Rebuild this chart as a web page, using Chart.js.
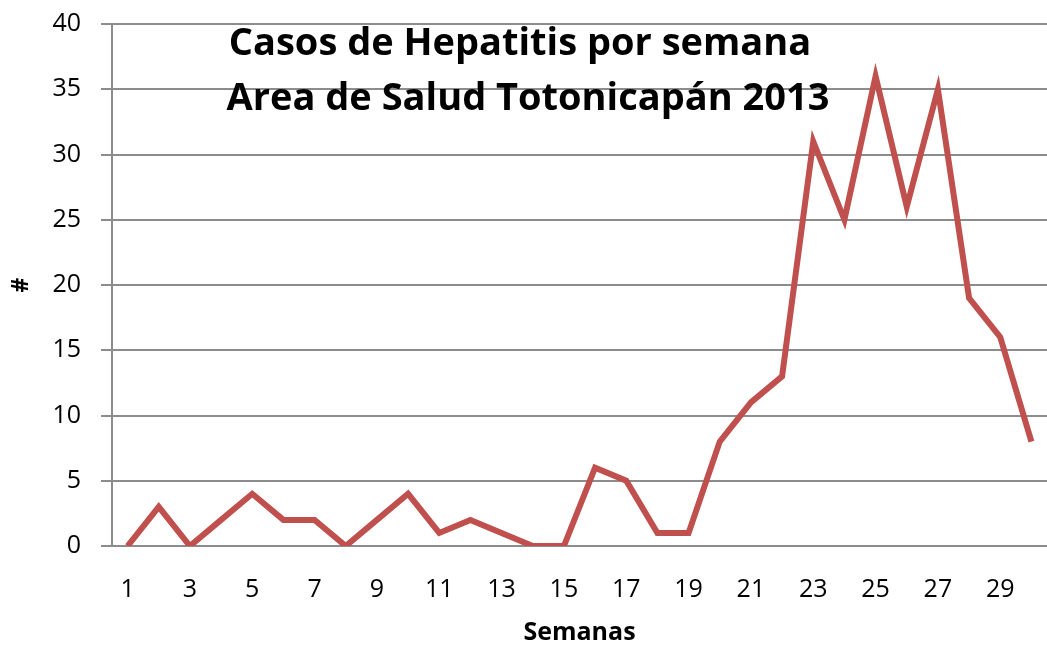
<!DOCTYPE html>
<html>
<head>
<meta charset="utf-8">
<script src="https://cdn.jsdelivr.net/npm/chart.js@4.4.1/dist/chart.umd.min.js"></script>
<style>
  html, body { margin: 0; padding: 0; background: #fff; }
  #wrap { width: 1047px; height: 652px; }
</style>
</head>
<body>
<div id="wrap"><canvas id="hepChart"></canvas></div>
<script>
// Semanas epidemiológicas 1..30
const weeks = Array.from({ length: 30 }, (_, i) => String(i + 1));
const cases = [0, 3, 0, 2, 4, 2, 2, 0, 2, 4, 1, 2, 1, 0, 0, 6, 5, 1, 1, 8, 11, 13, 31, 25, 36, 26, 35, 19, 16, 8];
const titleLines = ['Casos de Hepatitis por semana', 'Area de Salud Totonicapán 2013'];
const yTicks = [0, 5, 10, 15, 20, 25, 30, 35, 40];

const fontFamily = "'Open Sans', 'DejaVu Sans', sans-serif";

// Title drawn inside the plot area, like the original
const innerTitle = {
    id: 'innerTitle',
    afterDraw(chart) {
        const { ctx } = chart;
        const centers = [520, 528];
        const mids = [44, 99];
        ctx.save();
        ctx.fillStyle = '#000';
        ctx.font = 'bold 38px ' + fontFamily;
        ctx.textAlign = 'center';
        ctx.textBaseline = 'middle';
        titleLines.forEach((line, i) => {
            ctx.fillText(line, centers[i], mids[i]);
        });
        ctx.restore();
    }
};

const ctx = document.getElementById('hepChart');
new Chart(ctx, {
    type: 'line',
    data: {
        labels: weeks,
        datasets: [{
            label: 'Casos',
            data: cases,
            borderColor: '#c0504d',
            backgroundColor: '#c0504d',
            borderWidth: 6,
            pointRadius: 0,
            tension: 0
        }]
    },
    options: {
        responsive: true,
        maintainAspectRatio: false,
        animation: false,
        layout: { padding: { top: 0, right: -2, left: 0, bottom: 0 } },
        plugins: {
            legend: { display: false },
            tooltip: { enabled: false }
        },
        scales: {
            x: {
                offset: true,
                grid: { display: true, drawOnChartArea: false, drawTicks: true, tickLength: 24, color: 'rgba(0,0,0,0)' },
                border: { display: true, color: '#8c8c8c', width: 2 },
                ticks: {
                    color: '#000',
                    font: { family: fontFamily, size: 25 },
                    padding: 5,
                    autoSkip: false,
                    maxRotation: 0,
                    callback: function (value, index) {
                        return index % 2 === 0 ? weeks[index] : '';
                    }
                },
                title: {
                    display: true,
                    text: 'Semanas',
                    color: '#000',
                    font: { family: fontFamily, size: 25, weight: 'bold' },
                    padding: { top: 14 }
                },
                afterFit(axis) { axis.height = 106; }
            },
            y: {
                min: 0,
                max: 40,
                afterBuildTicks(axis) { axis.ticks = yTicks.map(v => ({ value: v })); },
                grid: { color: '#8c8c8c', lineWidth: 2, tickLength: 11 },
                border: { display: true, color: '#8c8c8c', width: 2 },
                ticks: {
                    color: '#000',
                    font: { family: fontFamily, size: 25 },
                    padding: 20
                },
                title: {
                    display: true,
                    text: '#',
                    color: '#000',
                    font: { family: fontFamily, size: 23, weight: 'bold' },
                    padding: { top: 8, bottom: 4 }
                },
                afterFit(axis) {
                    axis.width = 112;
                    axis.paddingTop = 24;
                }
            }
        }
    },
    plugins: [innerTitle]
});
</script>
</body>
</html>
